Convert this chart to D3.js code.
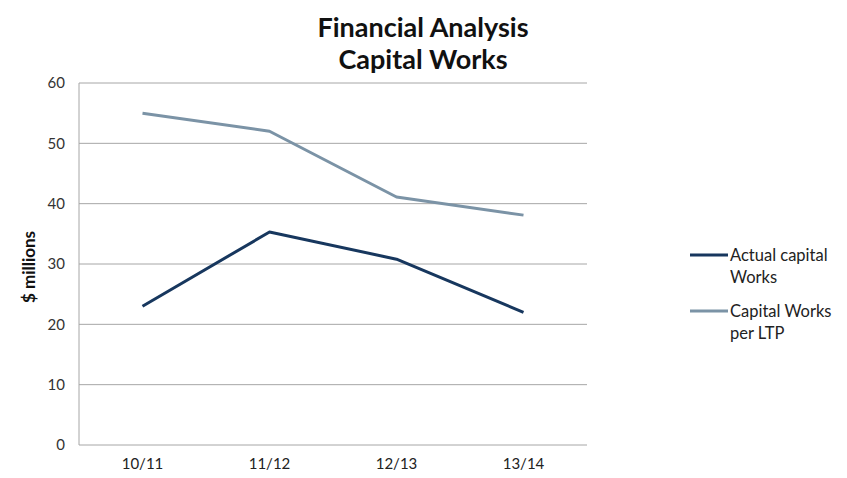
<!DOCTYPE html>
<html><head><meta charset="utf-8">
<script src="https://cdn.jsdelivr.net/npm/d3@7"></script>
<style>body{margin:0;background:#fff}svg{display:block}text{font-family:Lato,"Open Sans",sans-serif}</style>
</head><body>
<svg id="c" width="847" height="478"></svg>
<script>
const categories = ["10/11","11/12","12/13","13/14"];
const actualCapital = [23.0, 35.3, 30.8, 22.0];
const capitalLTP = [55.0, 52.0, 41.1, 38.1];
const yTicks = [0,10,20,30,40,50,60];
const seriesNames = [["Actual capital","Works"],["Capital Works","per LTP"]];
const colors = ["#17375e","#7b93a6"];

const svg = d3.select("#c");
const m = {left:79, right:587, top:83, bottom:445};
const x = d3.scaleBand().domain(categories).range([m.left, m.right]);
const y = d3.scaleLinear().domain([0,60]).range([m.bottom, m.top]);

// gridlines
svg.append("g").selectAll("line").data(yTicks.filter(d=>d>0)).join("line")
  .attr("x1", m.left).attr("x2", m.right)
  .attr("y1", d=>y(d)).attr("y2", d=>y(d))
  .attr("stroke","#a6a6a6").attr("stroke-width",1);

// axes lines
svg.append("line").attr("x1",m.left).attr("x2",m.left).attr("y1",m.top).attr("y2",m.bottom)
  .attr("stroke","#a6a6a6");
svg.append("line").attr("x1",m.left).attr("x2",m.right).attr("y1",m.bottom).attr("y2",m.bottom)
  .attr("stroke","#a6a6a6");

// y tick labels
svg.append("g").selectAll("text").data(yTicks).join("text")
  .attr("x", 65).attr("y", d=>y(d)).attr("dy","0.35em")
  .attr("text-anchor","end").attr("font-size",15).attr("fill","#333")
  .text(d=>d);

// x labels
svg.append("g").selectAll("text").data(categories).join("text")
  .attr("x", d=>x(d)+x.bandwidth()/2).attr("y", 469)
  .attr("text-anchor","middle").attr("font-size",15).attr("fill","#222")
  .text(d=>d);

// y title
svg.append("text").attr("transform","translate(35,267) rotate(-90)")
  .attr("text-anchor","middle").attr("font-size",17).attr("font-weight","bold").attr("fill","#111")
  .text("$ millions");

// title
const t = svg.append("text").attr("text-anchor","middle").attr("font-size",27).attr("font-weight","bold").attr("fill","#111");
t.append("tspan").attr("x",423).attr("y",37).text("Financial Analysis");
t.append("tspan").attr("x",423).attr("y",69).text("Capital Works");

// lines
const line = d3.line().x((d,i)=>x(categories[i])+x.bandwidth()/2).y(d=>y(d));
[actualCapital, capitalLTP].forEach((s,i)=>{
  svg.append("path").datum(s).attr("d", line).attr("fill","none")
    .attr("stroke", colors[i]).attr("stroke-width",3).attr("stroke-linejoin","round");
});

// legend
const ly = [255, 311];
seriesNames.forEach((n,i)=>{
  svg.append("line").attr("x1",690).attr("x2",728).attr("y1",ly[i]).attr("y2",ly[i])
    .attr("stroke",colors[i]).attr("stroke-width",3);
  const tx = svg.append("text").attr("font-size",16.5).attr("fill","#222");
  tx.append("tspan").attr("x",730).attr("y",ly[i]).attr("dy","0.35em").text(n[0]);
  tx.append("tspan").attr("x",730).attr("y",ly[i]+22).attr("dy","0.35em").text(n[1]);
});
</script>
</body></html>
